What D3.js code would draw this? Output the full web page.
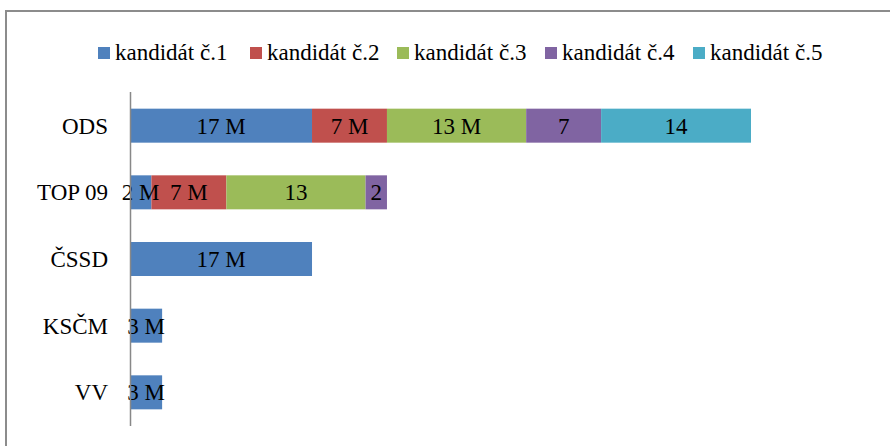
<!DOCTYPE html>
<html>
<head>
<meta charset="utf-8">
<script src="https://cdn.jsdelivr.net/npm/d3@7"></script>
</head>
<body style="margin:0; background:#fff">
<svg width="890" height="446"></svg>
<script>
// chart data
const parties = ["ODS", "TOP 09", "ČSSD", "KSČM", "VV"];
const seriesNames = ["kandidát č.1", "kandidát č.2", "kandidát č.3", "kandidát č.4", "kandidát č.5"];
const cand1 = [17, 2, 17, 3, 3];
const cand2 = [7, 7, 0, 0, 0];
const cand3 = [13, 13, 0, 0, 0];
const cand4 = [7, 2, 0, 0, 0];
const cand5 = [14, 0, 0, 0, 0];
// labels as printed in the bars
const labels1 = ["17 M", "2 M", "17 M", "3 M", "3 M"];
const labels2 = ["7 M", "7 M", "", "", ""];
const labels3 = ["13 M", "13", "", "", ""];
const labels4 = ["7", "2", "", "", ""];
const labels5 = ["14", "", "", "", ""];
const colors = ["#4F81BD", "#C0504D", "#9BBB59", "#8064A2", "#4BACC6"];

const seriesVals = [cand1, cand2, cand3, cand4, cand5];
const seriesLabels = [labels1, labels2, labels3, labels4, labels5];
const FONT = "Liberation Serif";

const svg = d3.select("svg");

// outer frame (runs off the right and bottom edge)
svg.append("rect")
    .attr("x", 6).attr("y", 11)
    .attr("width", 900).attr("height", 460)
    .attr("fill", "none")
    .attr("stroke", "#8c8c8c")
    .attr("stroke-width", 2);

const table = parties.map((p, i) => {
    const row = { party: p };
    seriesNames.forEach((s, j) => row[s] = seriesVals[j][i]);
    return row;
});
const stacked = d3.stack().keys(seriesNames)(table);

const x = d3.scaleLinear().domain([0, 58]).range([130, 751]);
const y = d3.scaleBand().domain(parties).range([92, 426]).paddingInner(0.49).paddingOuter(0.25);

const layers = svg.append("g").selectAll("g")
    .data(stacked)
    .join("g")
    .attr("fill", (d, i) => colors[i]);

layers.selectAll("rect")
    .data(d => d.filter(s => s[1] - s[0] > 0))
    .join("rect")
    .attr("x", d => x(d[0]))
    .attr("y", d => y(d.data.party))
    .attr("width", d => x(d[1]) - x(d[0]))
    .attr("height", y.bandwidth());

// value labels
stacked.forEach((layer, j) => {
    layer.forEach((d, i) => {
        const txt = seriesLabels[j][i];
        if (!txt || d[1] - d[0] <= 0) return;
        svg.append("text")
            .attr("x", (x(d[0]) + x(d[1])) / 2)
            .attr("y", y(d.data.party) + y.bandwidth() / 2 + 8)
            .attr("text-anchor", "middle")
            .style("font-family", FONT)
            .attr("font-size", 23)
            .text(txt);
    });
});

// category axis
svg.append("line")
    .attr("x1", 130.5).attr("x2", 130.5)
    .attr("y1", 92).attr("y2", 426)
    .attr("stroke", "#888").attr("stroke-width", 1.5);

svg.append("g").selectAll("text")
    .data(parties)
    .join("text")
    .attr("x", 108)
    .attr("y", d => y(d) + y.bandwidth() / 2 + 8)
    .attr("text-anchor", "end")
    .style("font-family", FONT)
    .attr("font-size", 23)
    .text(d => d);

// legend
const legendX = [98, 250, 397, 545, 693];
const legend = svg.append("g").selectAll("g")
    .data(seriesNames)
    .join("g")
    .attr("transform", (d, i) => `translate(${legendX[i]},47)`);
legend.append("rect")
    .attr("width", 12).attr("height", 12)
    .attr("fill", (d, i) => colors[i]);
legend.append("text")
    .attr("x", 17).attr("y", 13)
    .style("font-family", FONT)
    .attr("font-size", 23)
    .text(d => d);
</script>
</body>
</html>
